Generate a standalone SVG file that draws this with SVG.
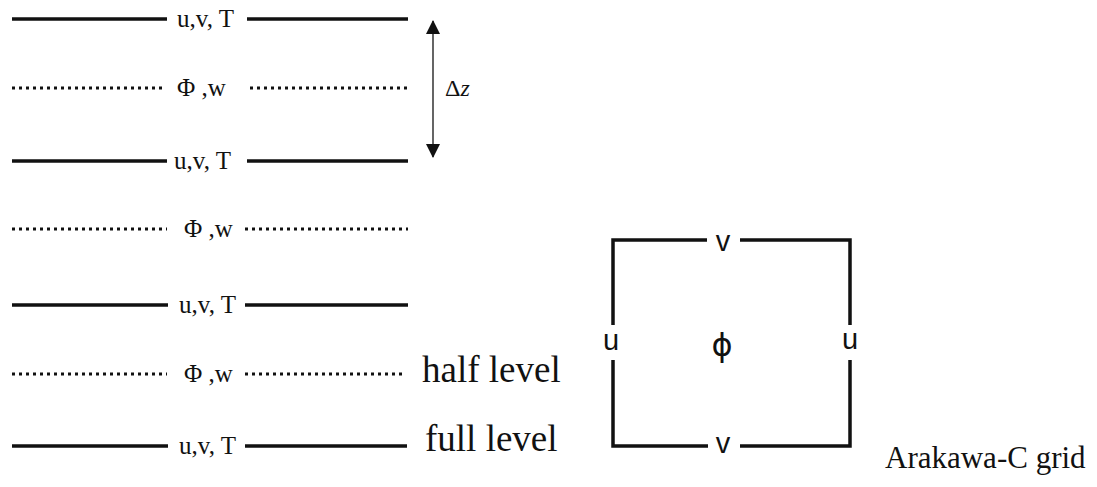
<svg xmlns="http://www.w3.org/2000/svg" width="1097" height="487" viewBox="0 0 1097 487">
<style>
.full{stroke:#111;stroke-width:3.5;fill:none}
.half{stroke:#111;stroke-width:3;stroke-dasharray:3 4;fill:none}
.lbl{font-family:"Liberation Serif","Times New Roman",serif;font-size:25px;fill:#111}
.big{font-family:"Liberation Serif","Times New Roman",serif;font-size:37px;fill:#111}
.cap{font-family:"Liberation Serif","Times New Roman",serif;font-size:31px;fill:#111}
.box{stroke:#111;stroke-width:3.5;fill:none}
.sans{font-family:"Liberation Sans",Arial,sans-serif;font-size:29px;fill:#111;text-anchor:middle}
</style>
<defs>
<marker id="ah" markerWidth="14" markerHeight="14" refX="13" refY="7" orient="auto-start-reverse" markerUnits="userSpaceOnUse">
<path d="M0,0 L14,7 L0,14 z" fill="#111"/>
</marker>
</defs>
<g id="connectors">
<line x1="433" y1="21" x2="433" y2="157" stroke="#555" stroke-width="1.8" marker-start="url(#ah)" marker-end="url(#ah)"/>
</g>
<g id="level1">
<line class="full" x1="12" y1="19" x2="167" y2="19"/>
<text class="lbl" x="177" y="27">u,v, T</text>
<line class="full" x1="247" y1="19" x2="408" y2="19"/>
</g>
<g id="level2">
<line class="half" x1="12" y1="88" x2="166" y2="88"/>
<text class="lbl" x="177" y="96">Φ ,w</text>
<line class="half" x1="250" y1="88" x2="408" y2="88"/>
</g>
<g id="level3">
<line class="full" x1="12" y1="161" x2="167" y2="161"/>
<text class="lbl" x="174" y="169">u,v, T</text>
<line class="full" x1="247" y1="161" x2="408" y2="161"/>
</g>
<g id="dz">
<text x="445" y="96" style="font-family:'Liberation Serif',serif;font-size:24px;fill:#111">Δ<tspan font-style="italic">z</tspan></text>
</g>
<g id="level4">
<line class="half" x1="12" y1="229" x2="167" y2="229"/>
<text class="lbl" x="184" y="237">Φ ,w</text>
<line class="half" x1="245" y1="229" x2="408" y2="229"/>
</g>
<g id="level5">
<line class="full" x1="12" y1="305" x2="168" y2="305"/>
<text class="lbl" x="179" y="313">u,v, T</text>
<line class="full" x1="245" y1="305" x2="408" y2="305"/>
</g>
<g id="level6">
<line class="half" x1="12" y1="374" x2="167" y2="374"/>
<text class="lbl" x="184" y="382">Φ ,w</text>
<line class="half" x1="245" y1="374" x2="406" y2="374"/>
<text class="big" x="422" y="382">half level</text>
</g>
<g id="level7">
<line class="full" x1="12" y1="446" x2="168" y2="446"/>
<text class="lbl" x="179" y="454">u,v, T</text>
<line class="full" x1="245" y1="446" x2="407" y2="446"/>
<text class="big" x="425" y="451">full level</text>
</g>
<g id="grid">
<path class="box" d="M707,240 H613 V325"/>
<path class="box" d="M740,240 H850 V325"/>
<path class="box" d="M613,360 V446 H708"/>
<path class="box" d="M850,360 V446 H740"/>
<text class="sans" x="723" y="251">v</text>
<text class="sans" x="723" y="453">v</text>
<text class="sans" x="611" y="350">u</text>
<text class="sans" x="850" y="349">u</text>
<text x="722" y="356" style="font-family:'DejaVu Sans','Liberation Sans',sans-serif;font-size:32px;fill:#111;text-anchor:middle">ϕ</text>
</g>
<g id="caption">
<text class="cap" x="885" y="468">Arakawa-C grid</text>
</g>
</svg>
